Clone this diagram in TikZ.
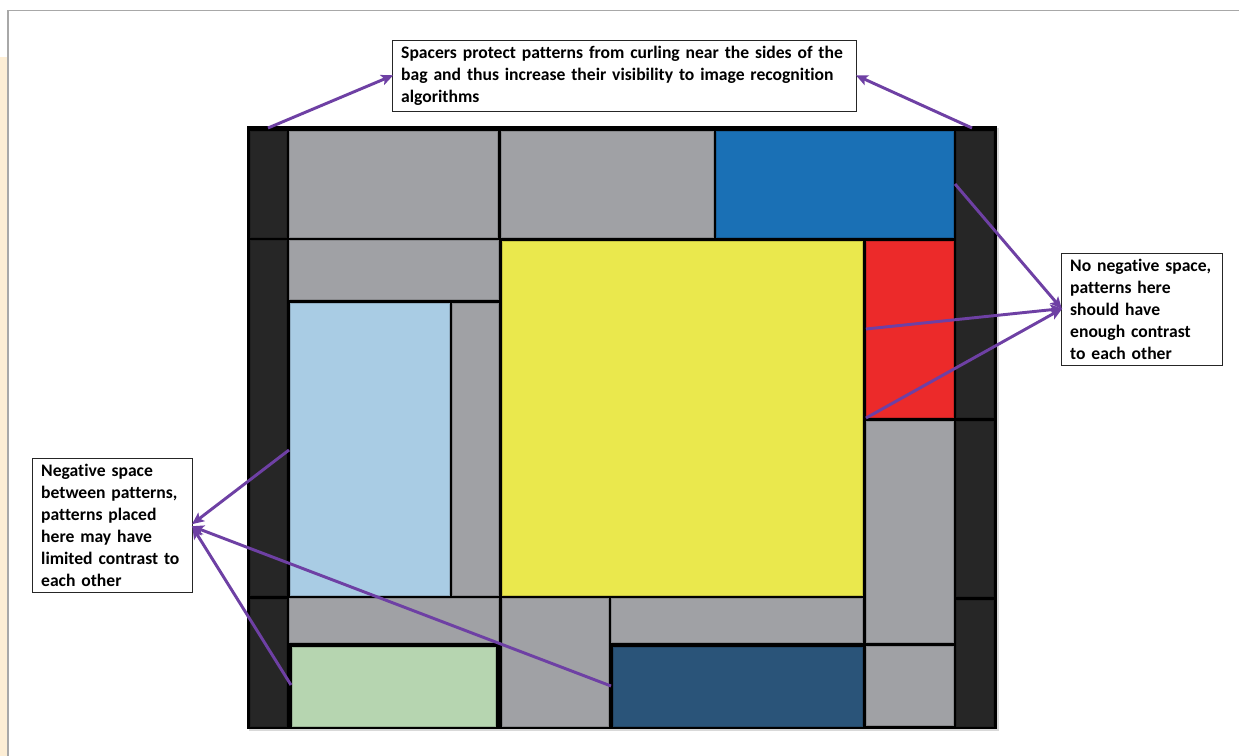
\documentclass[tikz,border=0pt]{standalone}
\usepackage{fontspec}
\setmainfont{Carlito}[Ligatures=NoCommon]
\usetikzlibrary{arrows.meta}
\definecolor{spacer}{HTML}{262626}
\definecolor{cellgray}{HTML}{A0A1A5}
\definecolor{cellblue}{HTML}{1A70B5}
\definecolor{cellyellow}{HTML}{EAE84D}
\definecolor{cellred}{HTML}{EC2A2A}
\definecolor{celllightblue}{HTML}{A9CCE4}
\definecolor{cellgreen}{HTML}{B6D5B0}
\definecolor{celldarkblue}{HTML}{2A5479}
\definecolor{purp}{HTML}{6E40A4}
\definecolor{cream}{HTML}{FDEED5}
\definecolor{edgegray}{HTML}{A8A8A8}
\tikzset{
  note/.style={draw=black!85, line width=0.8pt, fill=white, anchor=north west, align=left,
    font=\bfseries\fontsize{13.2pt}{16.5pt}\selectfont, inner xsep=6.5pt, inner ysep=4.2pt},
  pointer/.style={draw=purp, line width=2.2pt, -{Stealth[length=9pt,width=8pt,inset=2pt]}, shorten >=-1pt},
  cell/.style={fill=#1, draw=#1!85!black, line width=0.3pt}
}
\begin{document}
\begin{tikzpicture}[x=0.75pt,y=-0.75pt]
\useasboundingbox (0,0) rectangle (1239,756);
% page background
\fill[white] (0,0) rectangle (1239,756);
\fill[cream] (0,57) rectangle (7.5,756);
\draw[edgegray, line width=1.2pt] (8,756) -- (8,10.5) -- (1239,10.5);
% shadow and frame
\fill[black!15] (249,128) rectangle (999,731);
\fill[black] (247,126) rectangle (997,729);
% left spacers
\fill[cell=spacer] (250,131) rectangle (286,237);
\fill[cell=spacer] (250,240) rectangle (286,595);
\fill[cell=spacer] (250,599) rectangle (286,726);
% right spacers
\fill[cell=spacer] (956,131) rectangle (993,417);
\fill[cell=spacer] (956,421) rectangle (993,596);
\fill[cell=spacer] (956,600) rectangle (993,726);
% top row
\filldraw[cell=cellgray] (289,131) rectangle (497,237);
\filldraw[cell=cellgray] (501,131) rectangle (713,237);
\filldraw[cell=cellblue] (716,131) rectangle (953,237);
% middle
\filldraw[cell=cellgray] (289,240) rectangle (498,299);
\filldraw[cell=celllightblue] (290,303) rectangle (449,595);
\filldraw[cell=cellgray] (452,303) rectangle (498,595);
\filldraw[cell=cellyellow] (502,241) rectangle (862,595);
\filldraw[cell=cellred] (866,241) rectangle (953,417);
\filldraw[cell=cellgray] (866,421) rectangle (953,642);
% bottom
\filldraw[cell=cellgray] (289,598) rectangle (498,642);
\filldraw[cell=cellgreen] (292,647) rectangle (495,726);
\filldraw[cell=cellgray] (502,598) rectangle (608,726);
\filldraw[cell=cellgray] (611,598) rectangle (862,642);
\filldraw[cell=celldarkblue] (613,647) rectangle (862,726);
\filldraw[cell=cellgray] (866,646) rectangle (953,725);
% notes
\node[note, text width=335pt] (top) at (392,40) {Spacers protect patterns from curling near the sides of the\\bag and thus increase their visibility to image recognition\\algorithms};
\node[note, text width=108pt] (rbox) at (1061,253) {No negative space,\\patterns here\\should have\\enough contrast\\to each other};
\node[note, text width=107pt] (lbox) at (32,458) {Negative space\\between patterns,\\patterns placed\\here may have\\limited contrast to\\each other};
% arrow origins
\coordinate (sl) at (268,128);
\coordinate (sr) at (972,128);
\coordinate (bl) at (955,184);
\coordinate (rd1) at (866,329);
\coordinate (rd2) at (866,418);
\coordinate (lb) at (289,450);
\coordinate (db) at (611,686);
\coordinate (gr) at (291,685);
% pointers
\draw[pointer] (sl) -- (top.west);
\draw[pointer] (sr) -- (top.east);
\draw[pointer] (bl) -- ([yshift=1pt]rbox.west);
\draw[pointer] (rd1) -- ([yshift=0.5pt]rbox.west);
\draw[pointer] (rd2) -- (rbox.west);
\draw[pointer] (lb) -- ([yshift=1.5pt]lbox.east);
\draw[pointer] (db) -- ([yshift=-1pt]lbox.east);
\draw[pointer] (gr) -- ([yshift=-2pt]lbox.east);
\end{tikzpicture}
\end{document}
